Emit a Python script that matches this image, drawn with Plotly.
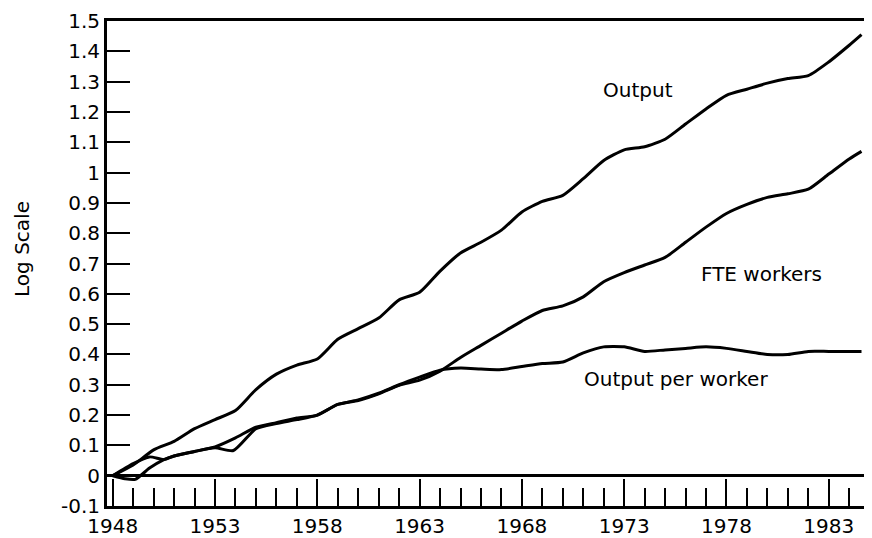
import plotly.graph_objects as go

# ---- data (log scale, 1948 = 0) ----
output_years = [1948, 1949, 1950, 1951, 1952, 1953, 1954, 1955, 1956, 1957, 1958, 1959,
                1960, 1961, 1962, 1963, 1964, 1965, 1966, 1967, 1968, 1969, 1970, 1971,
                1972, 1973, 1974, 1975, 1976, 1977, 1978, 1979, 1980, 1981, 1982, 1983,
                1984, 1984.6]
output_vals = [0, 0.035, 0.085, 0.113, 0.155, 0.185, 0.215, 0.284, 0.335, 0.365, 0.385, 0.45,
               0.485, 0.52, 0.58, 0.605, 0.675, 0.735, 0.77, 0.81, 0.87, 0.905, 0.925, 0.98,
               1.04, 1.075, 1.085, 1.11, 1.16, 1.21, 1.255, 1.275, 1.295, 1.31, 1.32, 1.365,
               1.42, 1.455]

fte_years = [1948, 1948.6, 1949.1, 1949.8, 1950.5, 1951, 1952, 1953, 1953.9, 1955, 1956,
             1957, 1958, 1959, 1960, 1961, 1962, 1963, 1964, 1965, 1966, 1967, 1968, 1969,
             1970, 1971, 1972, 1973, 1974, 1975, 1976, 1977, 1978, 1979, 1980, 1981, 1982,
             1983, 1984, 1984.6]
fte_vals = [0, -0.01, -0.012, 0.025, 0.053, 0.065, 0.08, 0.092, 0.083, 0.155, 0.172,
            0.185, 0.2, 0.235, 0.248, 0.27, 0.298, 0.315, 0.345, 0.39, 0.43, 0.47, 0.51, 0.545,
            0.56, 0.59, 0.64, 0.67, 0.695, 0.72, 0.77, 0.82, 0.865, 0.895, 0.918, 0.93, 0.945,
            0.995, 1.045, 1.07]

opw_years = [1948, 1949, 1949.8, 1950.5, 1951, 1952, 1953, 1954, 1955, 1956, 1957, 1958,
             1959, 1960, 1961, 1962, 1963, 1964, 1965, 1966, 1967, 1968, 1969, 1970, 1971,
             1972, 1973, 1974, 1975, 1976, 1977, 1978, 1979, 1980, 1981, 1982, 1983, 1984,
             1984.6]
opw_vals = [0, 0.04, 0.062, 0.053, 0.065, 0.08, 0.095, 0.125, 0.16, 0.175, 0.19, 0.2,
            0.235, 0.25, 0.272, 0.3, 0.325, 0.348, 0.355, 0.352, 0.35, 0.36, 0.37, 0.375, 0.405,
            0.425, 0.425, 0.41, 0.415, 0.42, 0.425, 0.42, 0.41, 0.40, 0.40, 0.41, 0.41, 0.41,
            0.41]

x_tick_vals = [1948, 1953, 1958, 1963, 1968, 1973, 1978, 1983]
x_tick_text = ["1948", "1953", "1958", "1963", "1968", "1973", "1978", "1983"]
y_tick_vals = [-0.1, 0, 0.1, 0.2, 0.3, 0.4, 0.5, 0.6, 0.7, 0.8, 0.9, 1.0, 1.1, 1.2, 1.3, 1.4, 1.5]
y_tick_text = ["-0.1", "0", "0.1", "0.2", "0.3", "0.4", "0.5", "0.6", "0.7", "0.8", "0.9",
               "1", "1.1", "1.2", "1.3", "1.4", "1.5"]

series_labels = ["Output", "FTE workers", "Output per worker"]
y_title = "Log Scale"

FONT = "DejaVu Sans"
line_style = dict(color="black", width=3, shape="spline", smoothing=0.6)

fig = go.Figure()
for xs, ys, name in [(output_years, output_vals, series_labels[0]),
                     (fte_years, fte_vals, series_labels[1]),
                     (opw_years, opw_vals, series_labels[2])]:
    fig.add_trace(go.Scatter(x=xs, y=ys, mode="lines", name=name, line=line_style,
                             showlegend=False, hoverinfo="x+y+name"))

label_pos = [(1973.67, 1.273), (1979.73, 0.666), (1975.53, 0.32)]
for (lx, ly), text in zip(label_pos, series_labels):
    fig.add_annotation(x=lx, y=ly, text=text, showarrow=False,
                       font=dict(family=FONT, size=20, color="black"),
                       xanchor="center", yanchor="middle")

# y-axis title, placed as in the reference (slightly above the plot's middle)
fig.add_annotation(x=-0.112, y=0.53, xref="paper", yref="paper", text=y_title,
                   textangle=-90, showarrow=False,
                   font=dict(family=FONT, size=20, color="black"),
                   xanchor="center", yanchor="middle")

# page body has an 8px margin, so the figure is drawn 8px in from the top-left
fig.update_layout(
    width=864, height=530,
    margin=dict(l=99, r=6, t=13, b=32),
    paper_bgcolor="white", plot_bgcolor="white",
    font=dict(family=FONT, color="black"),
    xaxis=dict(range=[1947.72, 1984.82], showgrid=False, zeroline=False,
               showline=True, linecolor="black", linewidth=3, mirror=True,
               ticks="inside", tickvals=x_tick_vals, ticktext=x_tick_text,
               ticklen=27, tickwidth=2, tickcolor="black",
               minor=dict(dtick=1, tick0=1948, ticks="inside", ticklen=18,
                          tickwidth=2, tickcolor="black", showgrid=False),
               tickfont=dict(family=FONT, size=20, color="black"),
               ticklabeloverflow="allow",
               automargin=False),
    yaxis=dict(range=[-0.1, 1.5], showgrid=False,
               zeroline=True, zerolinecolor="black", zerolinewidth=3,
               showline=True, linecolor="black", linewidth=3, mirror=True,
               ticks="inside", tickvals=y_tick_vals, ticktext=y_tick_text,
               ticklen=23, tickwidth=2, tickcolor="black",
               tickfont=dict(family=FONT, size=20, color="black"),
               ticklabeloverflow="allow",
               automargin=False),
)

fig.write_html("out.html")
